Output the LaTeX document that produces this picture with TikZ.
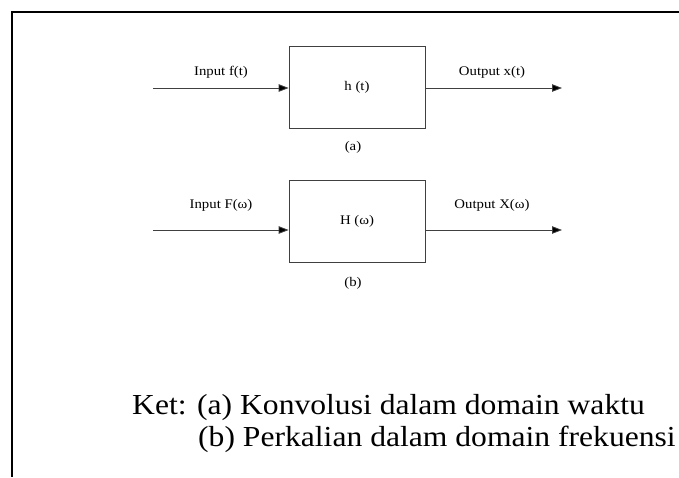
\documentclass[tikz,border=0pt]{standalone}
\usepackage{fontspec}
\setmainfont{Liberation Serif}
\usetikzlibrary{positioning,arrows.meta}
\newcommand{\widetext}[2][1.12]{\scalebox{#1}[1]{#2}}

\begin{document}
\begin{tikzpicture}[
  x=1pt, y=-1pt,
  lbl/.style={font=\fontsize{13.2}{15}\selectfont, inner sep=0pt},
  sys/.style={rectangle, draw=black!75, line width=0.8pt, minimum width=136pt,
              minimum height=82pt, inner sep=0pt, font=\fontsize{13.2}{15}\selectfont},
  sig/.style={-{Triangle[length=10pt,width=7.5pt,fill=black]}, draw=black!75, line width=0.8pt},
  ket/.style={font=\fontsize{29}{33}\selectfont, inner sep=0pt, anchor=base west}
]
\useasboundingbox (0,0) rectangle (679,477);
\draw[line width=1.5pt] (12,477) -- (12,12) -- (679,12);

% (a) time domain
\node[sys] (ha) at (357,87) {\widetext{h (t)}};
\coordinate (ina) at (153,88);
\coordinate (outa) at (562,88);
\draw[sig] (ina) -- (ha.west |- ina);
\draw[sig] (ha.east |- outa) -- (outa);
\node[lbl] (fa) at (221,72) {\widetext{Input f(t)}};
\node[lbl] (xa) at (492,72) {\widetext{Output x(t)}};
\node[lbl] (capa) at (353,147) {\widetext{(a)}};

% (b) frequency domain
\node[sys] (hb) at (357,221) {\widetext{H (\char"03C9)}};
\coordinate (inb) at (153,230);
\coordinate (outb) at (562,230);
\draw[sig] (inb) -- (hb.west |- inb);
\draw[sig] (hb.east |- outb) -- (outb);
\node[lbl] (fb) at (221,205) {\widetext{Input F(\char"03C9)}};
\node[lbl] (xb) at (492,205) {\widetext{Output X(\char"03C9)}};
\node[lbl] (capb) at (353,283) {\widetext{(b)}};

\node[ket] (keta) at (132,414) {\widetext[1.09]{Ket: (a) Konvolusi dalam domain waktu}};
\node[ket] (ketb) at (198,446) {\widetext[1.09]{(b) Perkalian dalam domain frekuensi}};
\end{tikzpicture}
\end{document}
